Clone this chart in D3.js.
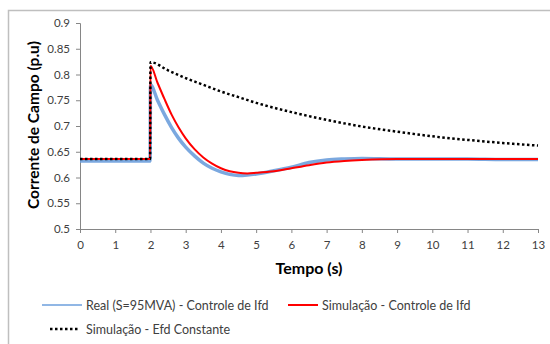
<!DOCTYPE html>
<html>
<head>
<meta charset="utf-8">
<script src="https://cdn.jsdelivr.net/npm/d3@7/dist/d3.min.js"></script>
<style>
  html, body { margin: 0; padding: 0; background: #fff; }
  svg { display: block; font-family: Lato, "Open Sans", sans-serif; }
</style>
</head>
<body>
<svg id="chart" width="550" height="344"></svg>
<script>
// Time samples (s) and field current (p.u) for each series
const tReal = [0, 1.99, 2.0, 2.2, 2.4, 2.6, 2.8, 3.0, 3.25, 3.5, 3.75, 4.0, 4.25, 4.5, 4.75, 5.0, 5.5, 6.0, 6.5, 7.0, 7.5, 8.0, 9.0, 10, 11, 12, 13];
const vReal = [0.632, 0.632, 0.780, 0.750, 0.722, 0.697, 0.676, 0.659, 0.642, 0.628, 0.618, 0.611, 0.606, 0.604, 0.605, 0.607, 0.613, 0.620, 0.629, 0.634, 0.636, 0.637, 0.636, 0.636, 0.636, 0.635, 0.635];

const tSimIfd = [0, 1.99, 2.0, 2.2, 2.4, 2.6, 2.8, 3.0, 3.25, 3.5, 3.75, 4.0, 4.25, 4.5, 4.75, 5.0, 5.5, 6.0, 6.5, 7.0, 7.5, 8.0, 9.0, 10, 11, 12, 13];
const vSimIfd = [0.636, 0.636, 0.817, 0.784, 0.752, 0.722, 0.697, 0.676, 0.655, 0.639, 0.627, 0.618, 0.612, 0.609, 0.608, 0.609, 0.612, 0.618, 0.624, 0.629, 0.632, 0.634, 0.636, 0.636, 0.636, 0.636, 0.636];

const tSimEfd = [0, 1.99, 2.0, 2.5, 3.0, 3.5, 4.0, 4.5, 5.0, 6.0, 7.0, 8.0, 9.0, 10, 11, 12, 13];
const vSimEfd = [0.636, 0.636, 0.824, 0.808, 0.793, 0.780, 0.767, 0.756, 0.745, 0.727, 0.712, 0.699, 0.689, 0.680, 0.673, 0.667, 0.662];

const xTicks = [0, 1, 2, 3, 4, 5, 6, 7, 8, 9, 10, 11, 12, 13];
const yTicks = [0.5, 0.55, 0.6, 0.65, 0.7, 0.75, 0.8, 0.85, 0.9];

const seriesNames = ["Real (S=95MVA) - Controle de Ifd", "Simulação - Controle de Ifd", "Simulação - Efd Constante"];
const xTitle = "Tempo (s)";
const yTitle = "Corrente de Campo (p.u)";

const svg = d3.select("#chart");

// chart frame
svg.append("rect")
  .attr("x", 8.5).attr("y", 10.5)
  .attr("width", 600).attr("height", 400)
  .attr("fill", "#fff").attr("stroke", "#bfbfbf").attr("stroke-width", 1.5);

const x = d3.scaleLinear().domain([0, 13]).range([80, 538]);
const y = d3.scaleLinear().domain([0.5, 0.9]).range([229, 23]);

const axisColor = "#868686";
const textColor = "#404040";

// y axis
const gy = svg.append("g")
  .attr("transform", `translate(${x(0)},0)`)
  .call(d3.axisLeft(y).tickValues(yTicks).tickSize(4).tickPadding(6)
    .tickFormat(d => d3.format("")(+d.toFixed(2))));
// x axis
const gx = svg.append("g")
  .attr("transform", `translate(0,${y(0.5)})`)
  .call(d3.axisBottom(x).tickValues(xTicks).tickSize(4).tickPadding(8));

[gx, gy].forEach(g => {
  g.select(".domain").attr("stroke", axisColor);
  g.selectAll(".tick line").attr("stroke", axisColor);
  g.selectAll(".tick text").attr("fill", textColor)
    .style("font-family", "Lato, sans-serif").style("font-size", "11.5px");
});

// axis titles
svg.append("text")
  .attr("x", 309).attr("y", 274)
  .attr("text-anchor", "middle")
  .style("font-weight", "bold").style("font-size", "16px")
  .attr("fill", "#000").text(xTitle);

svg.append("text")
  .attr("transform", "translate(39,125) rotate(-90)")
  .attr("text-anchor", "middle")
  .style("font-weight", "bold").style("font-size", "15.5px")
  .attr("fill", "#000").text(yTitle);

const zip = (ts, vs) => ts.map((t, i) => [t, vs[i]]);
const line = d3.line()
  .x(d => x(d[0])).y(d => y(d[1]))
  .curve(d3.curveMonotoneX);

// measured field current
svg.append("path")
  .datum(zip(tReal, vReal))
  .attr("d", line)
  .attr("fill", "none").attr("stroke", "#6d9fdc")
  .attr("stroke-width", 3.5).attr("stroke-opacity", 0.9);

// simulation with Ifd control
svg.append("path")
  .datum(zip(tSimIfd, vSimIfd))
  .attr("d", line)
  .attr("fill", "none").attr("stroke", "#ff0000")
  .attr("stroke-width", 2);

// simulation with constant Efd
svg.append("path")
  .datum(zip(tSimEfd, vSimEfd))
  .attr("d", line)
  .attr("fill", "none").attr("stroke", "#000")
  .attr("stroke-width", 2.5).attr("stroke-dasharray", "2.5,2.5");

// legend
const legend = [
  { x1: 42, x2: 82, y: 305, color: "#6d9fdc", w: 1.5, dash: null, tx: 86, name: seriesNames[0] },
  { x1: 288, x2: 318, y: 305, color: "#ff0000", w: 2, dash: null, tx: 322, name: seriesNames[1] },
  { x1: 50, x2: 80, y: 329, color: "#000", w: 2.5, dash: "2.5,2.5", tx: 86, name: seriesNames[2] }
];
const lg = svg.append("g");
legend.forEach(d => {
  lg.append("line")
    .attr("x1", d.x1).attr("x2", d.x2).attr("y1", d.y).attr("y2", d.y)
    .attr("stroke", d.color).attr("stroke-width", d.w)
    .attr("stroke-dasharray", d.dash);
  lg.append("text")
    .attr("x", d.tx).attr("y", d.y + 4.5)
    .style("font-size", "12.5px").attr("fill", textColor)
    .text(d.name);
});
</script>
</body>
</html>
